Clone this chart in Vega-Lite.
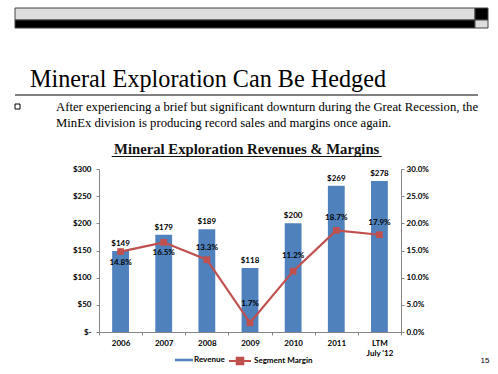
{
  "$schema": "https://vega.github.io/schema/vega-lite/v6.json",
  "width": 302,
  "height": 163,
  "autosize": {"type": "none"},
  "padding": {"left": 99, "top": 169, "right": 97, "bottom": 42},
  "background": "white",
  "config": {
    "view": {"stroke": null},
    "font": "Lato",
    "axis": {
      "labelFont": "Lato",
      "labelFontWeight": "bold",
      "labelFontSize": 8,
      "labelColor": "#000000",
      "domainColor": "#868686",
      "tickColor": "#868686",
      "tickSize": 3,
      "grid": false,
      "title": null,
      "labelOverlap": false,
      "labelFlush": false
    },
    "legend": {
      "labelFont": "Lato", "labelFontWeight": "bold", "labelFontSize": 8, "labelColor": "#000000", "padding": 0
    }
  },
  "data": {
    "values": [
      {"year": "2006", "revenue": 149, "margin": 0.148},
      {"year": "2007", "revenue": 179, "margin": 0.165},
      {"year": "2008", "revenue": 189, "margin": 0.133},
      {"year": "2009", "revenue": 118, "margin": 0.017},
      {"year": "2010", "revenue": 200, "margin": 0.112},
      {"year": "2011", "revenue": 269, "margin": 0.187},
      {"year": "LTM July '12", "revenue": 278, "margin": 0.179}
    ]
  },
  "layer": [
    {
      "data": {"values": [{}]},
      "mark": {"type": "rect", "fill": "#DDDDDD", "stroke": "#444444", "strokeWidth": 1},
      "encoding": {"x": {"value": -84}, "x2": {"value": 376}, "y": {"value": -161}, "y2": {"value": -149}}
    },
    {
      "data": {"values": [{}]},
      "mark": {"type": "rect", "fill": "#000000", "stroke": "#444444", "strokeWidth": 1},
      "encoding": {"x": {"value": -84}, "x2": {"value": 376}, "y": {"value": -149}, "y2": {"value": -141}}
    },
    {
      "data": {"values": [{}]},
      "mark": {"type": "rect", "fill": "#000000", "stroke": "#444444", "strokeWidth": 1},
      "encoding": {"x": {"value": 376}, "x2": {"value": 389}, "y": {"value": -161}, "y2": {"value": -149}}
    },
    {
      "data": {"values": [{}]},
      "mark": {"type": "rect", "fill": "#DDDDDD", "stroke": "#444444", "strokeWidth": 1},
      "encoding": {"x": {"value": 376}, "x2": {"value": 389}, "y": {"value": -149}, "y2": {"value": -141}}
    },
    {
      "data": {"values": [{}]},
      "mark": {"type": "rule", "color": "#000000", "strokeWidth": 1},
      "encoding": {"x": {"value": -84}, "x2": {"value": 379}, "y": {"value": -74}}
    },
    {
      "data": {"values": [{}]},
      "mark": {"type": "rect", "fill": "white", "stroke": "#000000", "strokeWidth": 1},
      "encoding": {"x": {"value": -84}, "x2": {"value": -79}, "y": {"value": -65}, "y2": {"value": -60}}
    },
    {
      "data": {"values": [{}]},
      "mark": {"type": "text", "font": "Liberation Serif", "fontSize": 24.2, "align": "left", "baseline": "alphabetic", "color": "#000000"},
      "encoding": {"x": {"value": -69}, "y": {"value": -82}, "text": {"value": "Mineral Exploration Can Be Hedged"}}
    },
    {
      "data": {"values": [{}]},
      "mark": {"type": "text", "font": "Liberation Serif", "fontSize": 12.7, "align": "left", "baseline": "alphabetic", "color": "#000000"},
      "encoding": {"x": {"value": -43}, "y": {"value": -58}, "text": {"value": "After experiencing a brief but significant downturn during the Great Recession, the"}}
    },
    {
      "data": {"values": [{}]},
      "mark": {"type": "text", "font": "Liberation Serif", "fontSize": 12.7, "align": "left", "baseline": "alphabetic", "color": "#000000"},
      "encoding": {"x": {"value": -43}, "y": {"value": -42}, "text": {"value": "MinEx division is producing record sales and margins once again."}}
    },
    {
      "data": {"values": [{}]},
      "mark": {"type": "text", "font": "Liberation Serif", "fontSize": 14.7, "fontWeight": "bold", "align": "center", "baseline": "alphabetic", "color": "#111111"},
      "encoding": {"x": {"value": 147.7}, "y": {"value": -15}, "text": {"value": "Mineral Exploration Revenues & Margins"}}
    },
    {
      "data": {"values": [{}]},
      "mark": {"type": "rule", "color": "#111111", "strokeWidth": 1},
      "encoding": {"x": {"value": 12.7}, "x2": {"value": 282.7}, "y": {"value": -12.5}}
    },
    {
      "data": {"values": [{}]},
      "mark": {"type": "text", "font": "Liberation Sans", "fontSize": 8, "align": "center", "baseline": "middle", "color": "#000000"},
      "encoding": {"x": {"value": 386}, "y": {"value": 192}, "text": {"value": "15"}}
    },
    {
      "encoding": {
        "x": {
          "field": "year", "type": "nominal", "sort": null,
          "scale": {"paddingInner": 0, "paddingOuter": 0},
          "axis": {
            "labelAngle": 0, "tickBand": "extent", "labelPadding": 4, "labelLineHeight": 10,
            "labelExpr": "datum.value == \"LTM July '12\" ? ['LTM', \"July '12\"] : datum.label"
          }
        },
        "y": {
          "field": "revenue", "type": "quantitative",
          "scale": {"domain": [0, 300], "nice": false},
          "axis": {
            "orient": "left", "values": [0, 50, 100, 150, 200, 250, 300], "labelPadding": 5,
            "labelOverlap": false,
            "labelExpr": "datum.value == 0 ? '$-' : '$' + datum.value"
          }
        }
      },
      "layer": [
        {
          "mark": {"type": "bar", "width": {"band": 0.39}},
          "encoding": {
            "fill": {
              "datum": "Revenue",
              "scale": {"domain": ["Revenue"], "range": ["#4F81BD"]},
              "legend": {
                "title": null, "orient": "none", "direction": "horizontal",
                "legendX": 76, "legendY": 182,
                "symbolSize": 324, "labelOffset": 1,
                "symbolType": "M-1,-0.14H1V0.14H-1Z",
                "symbolStrokeWidth": 0,
                "symbolOpacity": 1
              }
            }
          }
        },
        {
          "mark": {"type": "text", "baseline": "bottom", "dy": -3, "font": "Lato", "fontWeight": "bold", "fontSize": 8, "color": "#000000"},
          "encoding": {
            "text": {"field": "revenue", "type": "quantitative", "format": "$.0f"}
          }
        }
      ]
    },
    {
      "encoding": {
        "x": {"field": "year", "type": "nominal", "sort": null},
        "y": {
          "field": "margin", "type": "quantitative",
          "scale": {"domain": [0, 0.3], "nice": false},
          "axis": {"orient": "right", "values": [0, 0.05, 0.1, 0.15, 0.2, 0.25, 0.3], "format": ".1%", "labelPadding": 2, "labelOverlap": false}
        }
      },
      "layer": [
        {
          "mark": {"type": "line", "strokeWidth": 2.2},
          "encoding": {
            "stroke": {
              "datum": "Segment Margin",
              "scale": {"domain": ["Segment Margin"], "range": ["#C0504D"]},
              "legend": {
                "title": null, "orient": "none", "direction": "horizontal",
                "legendX": 129, "legendY": 180,
                "symbolSize": 484, "labelOffset": 2,
                "symbolType": "M-1,0H1M-0.3,-0.3H0.3V0.3H-0.3Z",
                "symbolStrokeWidth": 2,
                "symbolFillColor": "#C0504D",
                "symbolOpacity": 1,
                "encode": {"symbols": {"update": {"fill": {"value": "#C0504D"}, "fillOpacity": {"value": 1}}}}
              }
            }
          }
        },
        {
          "mark": {"type": "point", "shape": "square", "filled": true, "size": 45, "color": "#C0504D", "opacity": 1},
          "encoding": {}
        },
        {
          "transform": [{"filter": {"field": "year", "oneOf": ["2006", "2007"]}}],
          "mark": {"type": "text", "baseline": "middle", "dy": 11, "font": "Lato", "fontWeight": "bold", "fontSize": 8, "color": "#000000"},
          "encoding": {"text": {"field": "margin", "type": "quantitative", "format": ".1%"}}
        },
        {
          "transform": [{"filter": {"field": "year", "oneOf": ["2008", "2011", "LTM July '12"]}}],
          "mark": {"type": "text", "baseline": "middle", "dy": -12, "font": "Lato", "fontWeight": "bold", "fontSize": 8, "color": "#000000"},
          "encoding": {"text": {"field": "margin", "type": "quantitative", "format": ".1%"}}
        },
        {
          "transform": [{"filter": {"field": "year", "equal": "2010"}}],
          "mark": {"type": "text", "baseline": "middle", "dy": -15, "font": "Lato", "fontWeight": "bold", "fontSize": 8, "color": "#000000"},
          "encoding": {"text": {"field": "margin", "type": "quantitative", "format": ".1%"}}
        },
        {
          "transform": [{"filter": {"field": "year", "equal": "2009"}}],
          "mark": {"type": "text", "baseline": "middle", "dy": -19, "font": "Lato", "fontWeight": "bold", "fontSize": 8, "color": "#000000"},
          "encoding": {"text": {"field": "margin", "type": "quantitative", "format": ".1%"}}
        }
      ]
    }
  ],
  "resolve": {"scale": {"y": "independent"}}
}
